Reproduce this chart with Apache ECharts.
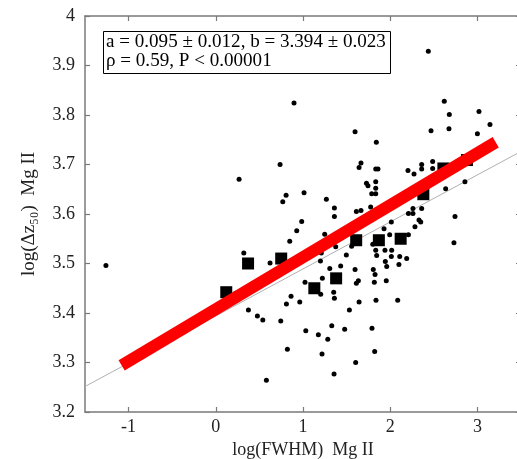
<!DOCTYPE html>
<html><head><meta charset="utf-8">
<script src="https://cdn.jsdelivr.net/npm/echarts@6/dist/echarts.min.js"></script>
<style>html,body{margin:0;padding:0;background:#fff}#c{width:517px;height:459px}</style>
</head><body><div id="c"></div>
<script>
// ---- data ----
const xTickLabels = [-1, 0, 1, 2, 3];
const yTickLabels = [3.2, 3.3, 3.4, 3.5, 3.6, 3.7, 3.8, 3.9, 4];
const dotsX = [-1.26,0.897,0.737,0.267,0.806,0.768,0.928,0.848,2.62,2.678,3.018,3.144,1.597,2.468,2.674,3.0,1.841,1.665,1.643,1.834,1.86,2.204,2.273,2.361,2.361,2.487,2.487,1.728,1.745,1.834,1.834,1.788,1.834,1.012,1.268,1.36,1.36,1.612,1.665,1.776,0.985,1.249,2.209,2.261,2.261,2.361,2.33,2.284,2.013,2.636,2.857,2.743,1.929,1.375,1.21,1.2,1.497,1.307,1.432,1.597,1.806,1.826,1.955,1.818,1.635,1.612,1.222,1.023,1.203,1.352,1.36,0.863,0.81,0.963,1.643,1.837,2.086,1.532,0.745,1.032,1.176,1.284,1.33,1.478,1.791,0.821,1.218,1.822,1.604,1.356,2.731,1.834,1.94,2.017,2.013,2.109,2.189,1.944,1.96,2.1,1.845,1.558,1.8,1.994,2.209,2.35,0.321,0.622,0.229,0.374,0.477,0.539,0.58,2.437];
const dotsY = [3.496,3.824,3.700,3.670,3.638,3.625,3.566,3.545,3.828,3.801,3.807,3.781,3.766,3.768,3.772,3.762,3.745,3.703,3.694,3.691,3.691,3.688,3.681,3.700,3.691,3.706,3.692,3.662,3.657,3.665,3.652,3.641,3.641,3.643,3.630,3.612,3.595,3.605,3.607,3.614,3.585,3.559,3.601,3.611,3.601,3.611,3.588,3.574,3.584,3.651,3.665,3.595,3.570,3.534,3.521,3.505,3.517,3.490,3.495,3.488,3.488,3.478,3.465,3.462,3.465,3.460,3.470,3.462,3.438,3.442,3.430,3.434,3.418,3.422,3.422,3.426,3.426,3.406,3.384,3.364,3.356,3.347,3.374,3.367,3.369,3.327,3.317,3.322,3.300,3.277,3.542,3.527,3.527,3.527,3.514,3.514,3.510,3.504,3.494,3.498,3.516,3.535,3.539,3.558,3.558,3.584,3.521,3.501,3.440,3.406,3.394,3.386,3.264,3.929];
const binX = [0.12, 0.37, 0.75, 1.13, 1.38, 1.61, 1.87, 2.12, 2.38, 2.61, 2.88];
const binY = [3.442, 3.500, 3.510, 3.450, 3.470, 3.547, 3.547, 3.550, 3.640, 3.692, 3.709];
const fitA = 0.095, fitB = 3.394;           // gray regression line y = a x + b
const redX = [-1.08, 3.21];
const redY = [3.294, 3.745];
const annotLines = ['a = 0.095 ± 0.012, b = 3.394 ± 0.023', 'ρ = 0.59, P < 0.00001'];

const FONT = 'Liberation Serif, DejaVu Serif, serif';
const axisCol = '#7a7a7a';
const chart = echarts.init(document.getElementById('c'), null, {renderer: 'canvas'});

const dots = dotsX.map((x, i) => [x, dotsY[i]]);
const bins = binX.map((x, i) => [x, binY[i]]);
const grayLine = [[-1.5, fitB + fitA * -1.5], [3.5, fitB + fitA * 3.5]];
const redLine = redX.map((x, i) => [x, redY[i]]);

const baseX = {
  type: 'value', min: -1.5, max: 3.5, interval: 0.5,
  axisLine: {show: true, onZero: false, lineStyle: {color: axisCol, width: 1.5}},
  axisTick: {show: true, inside: true, length: 5, customValues: xTickLabels, lineStyle: {color: axisCol, width: 1.2}},
  splitLine: {show: false}
};
const baseY = {
  type: 'value', min: 3.2, max: 4, interval: 0.1,
  axisLine: {show: true, onZero: false, lineStyle: {color: axisCol, width: 1.5}},
  axisTick: {show: true, inside: true, length: 5, customValues: yTickLabels, lineStyle: {color: axisCol, width: 1.2}},
  splitLine: {show: false}
};

chart.setOption({
  animation: false,
  backgroundColor: '#fff',
  grid: {left: 85, top: 16, right: -4, bottom: 47, containLabel: false, outerBoundsMode: 'none'},
  xAxis: [
    Object.assign({}, baseX, {
      position: 'bottom',
      axisLabel: {customValues: xTickLabels, color: '#222', fontFamily: FONT, fontSize: 18, margin: 6,
        formatter: v => String(Math.round(v))},
      name: 'log(FWHM)  Mg II', nameLocation: 'middle', nameGap: 25,
      nameTextStyle: {color: '#222', fontFamily: FONT, fontSize: 18}
    }),
    Object.assign({}, baseX, {position: 'top', axisLabel: {show: false}})
  ],
  yAxis: [
    Object.assign({}, baseY, {
      position: 'left',
      axisLabel: {customValues: yTickLabels, color: '#222', fontFamily: FONT, fontSize: 18, margin: 10,
        formatter: v => String(Math.round(v * 10) / 10)},
      name: 'log(Δz₅₀)  Mg II', nameLocation: 'middle', nameGap: 46,
      nameTextStyle: {color: '#222', fontFamily: FONT, fontSize: 19}
    }),
    Object.assign({}, baseY, {position: 'right', axisLabel: {show: false}})
  ],
  series: [
    {type: 'line', data: grayLine, symbol: 'none', lineStyle: {color: '#b0b0b0', width: 1}, z: 1, silent: true},
    {type: 'scatter', data: dots, symbol: 'circle', symbolSize: 5, itemStyle: {color: '#000', opacity: 1}, z: 2},
    {type: 'scatter', data: bins, symbol: 'rect', symbolSize: 12, itemStyle: {color: '#000', opacity: 1}, z: 3},
    {type: 'line', data: redLine, symbol: 'none', lineStyle: {color: '#ff0000', width: 12, cap: 'butt'}, z: 4, silent: true}
  ],
  graphic: [
    {type: 'rect', left: 103, top: 31, shape: {width: 287, height: 42},
      style: {fill: '#fff', stroke: '#000', lineWidth: 1}, z: 10},
    {type: 'text', x: 106, y: 33, scaleX: 1.06, z: 11,
      style: {text: annotLines[0], font: '18px ' + FONT, fill: '#000'}},
    {type: 'text', x: 106, y: 52, scaleX: 1.06, z: 11,
      style: {text: annotLines[1], font: '18px ' + FONT, fill: '#000'}}
  ]
});
</script>
</body></html>
